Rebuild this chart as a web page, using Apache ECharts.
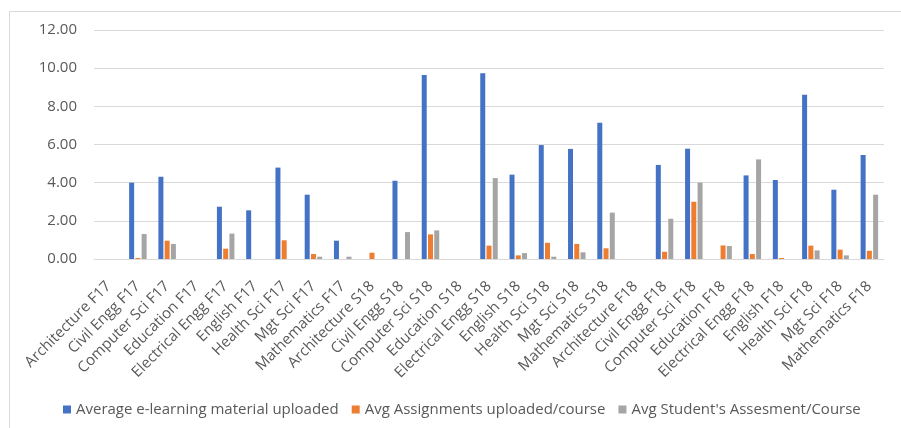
<!DOCTYPE html>
<html>
<head>
<meta charset="utf-8">
<script src="https://cdn.jsdelivr.net/npm/echarts@6/dist/echarts.min.js"></script>
<style>
  html, body { margin: 0; padding: 0; background: #fff; }
  #chart { width: 901px; height: 428px; }
</style>
</head>
<body>
<div id="chart"></div>
<script>
// Programmes by semester
const categories = [
  'Architecture F17', 'Civil Engg F17', 'Computer Sci F17', 'Education F17',
  'Electrical Engg F17', 'English F17', 'Health Sci F17', 'Mgt Sci F17',
  'Mathematics F17', 'Architecture S18', 'Civil Engg S18', 'Computer Sci S18',
  'Education S18', 'Electrical Engg S18', 'English S18', 'Health Sci S18',
  'Mgt Sci S18', 'Mathematics S18', 'Architecture F18', 'Civil Engg F18',
  'Computer Sci F18', 'Education F18', 'Electrical Engg F18', 'English F18',
  'Health Sci F18', 'Mgt Sci F18', 'Mathematics F18'
];

const materialUploaded = [
  0, 4.00, 4.31, 0, 2.74, 2.55, 4.79, 3.37, 0.96,
  0, 4.10, 9.64, 0, 9.73, 4.42, 5.97, 5.77, 7.14,
  0, 4.93, 5.78, 0, 4.38, 4.14, 8.61, 3.63, 5.45
];

const assignmentsUploaded = [
  0, 0.05, 0.96, 0, 0.54, 0, 0.98, 0.26, 0,
  0.33, 0, 1.29, 0, 0.70, 0.19, 0.85, 0.79, 0.56,
  0, 0.38, 3.00, 0.71, 0.26, 0.05, 0.70, 0.49, 0.43
];

const studentAssessment = [
  0, 1.31, 0.79, 0, 1.33, 0, 0, 0.12, 0.12,
  0, 1.41, 1.50, 0, 4.24, 0.31, 0.12, 0.35, 2.43,
  0, 2.11, 4.00, 0.68, 5.22, 0, 0.45, 0.19, 3.37
];

const seriesNames = [
  'Average e-learning material uploaded',
  'Avg Assignments uploaded/course',
  "Avg Student's Assesment/Course"
];

const FONT = 'Open Sans';
const TEXT = '#595959';

const chart = echarts.init(document.getElementById('chart'), null, { renderer: 'canvas' });

function bar(name, data, color) {
  return {
    name: name,
    type: 'bar',
    data: data,
    barWidth: 5,
    barGap: '25%',
    itemStyle: { color: color },
    emphasis: { disabled: true }
  };
}

chart.setOption({
  animation: false,
  backgroundColor: '#fff',
  graphic: [{
    type: 'rect',
    left: 7, top: 9,
    shape: { width: 900, height: 430 },
    style: { fill: 'none', stroke: '#D9D9D9', lineWidth: 1 },
    silent: true
  }],
  grid: { left: 94, right: 17, top: 30, bottom: 169, containLabel: false },
  legend: {
    top: 397,
    left: 58,
    itemWidth: 8,
    itemHeight: 8,
    itemGap: 13,
    icon: 'rect',
    textStyle: { fontFamily: FONT, fontSize: 15, color: TEXT },
    data: seriesNames
  },
  xAxis: {
    type: 'category',
    data: categories,
    axisTick: { show: false },
    axisLine: { lineStyle: { color: '#D9D9D9', width: 1 } },
    axisLabel: {
      interval: 0,
      rotate: 45,
      margin: 25,
      fontFamily: FONT,
      fontSize: 15,
      color: TEXT
    }
  },
  yAxis: {
    type: 'value',
    min: 0,
    max: 12,
    interval: 2,
    axisLine: { show: false },
    axisTick: { show: false },
    splitLine: { lineStyle: { color: '#D9D9D9', width: 1 } },
    axisLabel: {
      margin: 17,
      fontFamily: FONT,
      fontSize: 15,
      color: TEXT,
      formatter: v => v.toFixed(2)
    }
  },
  series: [
    bar(seriesNames[0], materialUploaded, '#4472C4'),
    bar(seriesNames[1], assignmentsUploaded, '#ED7D31'),
    bar(seriesNames[2], studentAssessment, '#A5A5A5')
  ]
});
</script>
</body>
</html>
